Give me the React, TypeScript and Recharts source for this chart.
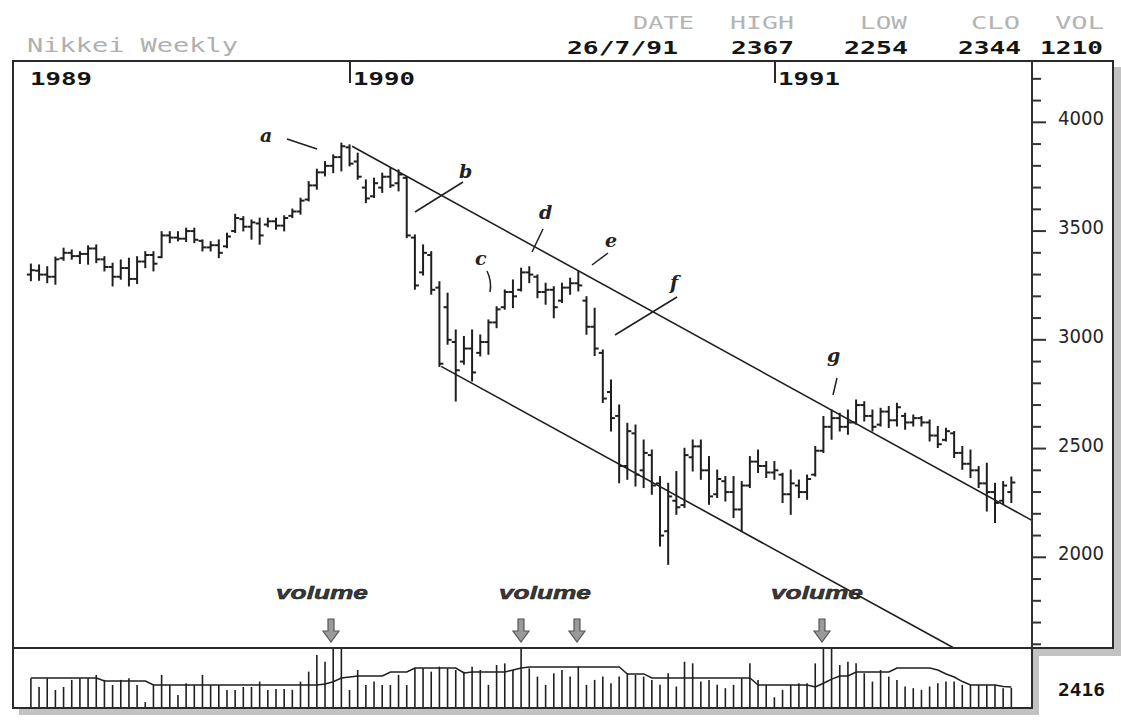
import React from "react"
import { Bar, ComposedChart, Line, ReferenceLine, XAxis, YAxis } from "recharts"

// weekly Nikkei bars, spring 1989 -> 26/7/91
const highs = [
  3346, 3342, 3334, 3378, 3419, 3411, 3403, 3430, 3434, 3380,
  3350, 3365, 3373, 3380, 3403, 3403, 3495, 3495, 3495, 3511,
  3511, 3457, 3449, 3457, 3488, 3575, 3564, 3549, 3557, 3557,
  3557, 3568, 3599, 3649, 3725, 3782, 3817, 3848, 3902, 3894,
  3856, 3733, 3741, 3764, 3787, 3779, 3748, 3480, 3434, 3403,
  3265, 3212, 3043, 3013, 3043, 3020, 3089, 3150, 3227, 3273,
  3327, 3334, 3296, 3258, 3242, 3258, 3281, 3311, 3196, 3143,
  2951, 2813, 2698, 2614, 2606, 2537, 2491, 2369, 2338, 2392,
  2499, 2537, 2537, 2461, 2399, 2369, 2369, 2346, 2461, 2491,
  2438, 2438, 2384, 2399, 2353, 2376, 2507, 2645, 2675, 2660,
  2675, 2721, 2713, 2675, 2683, 2691, 2706, 2660, 2652, 2645,
  2629, 2599, 2591, 2576, 2507, 2491, 2415, 2430, 2338, 2346,
  2367,
]
const lows = [
  3274, 3276, 3265, 3258, 3368, 3373, 3353, 3350, 3357, 3319,
  3250, 3281, 3250, 3261, 3334, 3319, 3380, 3449, 3457, 3454,
  3449, 3411, 3411, 3380, 3426, 3496, 3503, 3465, 3442, 3522,
  3511, 3503, 3564, 3580, 3641, 3695, 3756, 3771, 3779, 3802,
  3741, 3633, 3657, 3680, 3703, 3687, 3472, 3235, 3300, 3212,
  2880, 2982, 2721, 2890, 2813, 2928, 2936, 3058, 3143, 3150,
  3227, 3265, 3196, 3166, 3104, 3174, 3212, 3227, 3028, 2930,
  2714, 2583, 2345, 2361, 2330, 2323, 2292, 2054, 1970, 2200,
  2231, 2399, 2361, 2246, 2277, 2261, 2185, 2123, 2323, 2392,
  2369, 2361, 2254, 2200, 2277, 2269, 2376, 2484, 2545, 2583,
  2568, 2614, 2629, 2583, 2606, 2599, 2606, 2591, 2606, 2606,
  2537, 2507, 2537, 2461, 2407, 2369, 2323, 2215, 2162, 2246,
  2254,
]
const opens = [
  3300, 3318, 3300, 3290, 3375, 3400, 3385, 3395, 3420, 3370,
  3335, 3290, 3330, 3280, 3360, 3390, 3380, 3480, 3470, 3465,
  3500, 3455, 3425, 3435, 3430, 3500, 3555, 3520, 3535, 3530,
  3545, 3525, 3570, 3590, 3645, 3710, 3770, 3800, 3840, 3885,
  3820, 3700, 3660, 3700, 3750, 3720, 3745, 3470, 3310, 3390,
  3240, 3150, 2990, 2900, 2960, 2940, 2990, 3080, 3150, 3220,
  3230, 3310, 3290, 3220, 3230, 3180, 3240, 3260, 3180, 3060,
  2940, 2760, 2650, 2420, 2570, 2400, 2470, 2340, 2120, 2260,
  2240, 2460, 2510, 2400, 2290, 2350, 2300, 2220, 2330, 2440,
  2420, 2390, 2380, 2290, 2330, 2300, 2380, 2490, 2600, 2640,
  2600, 2620, 2700, 2650, 2610, 2670, 2630, 2650, 2620, 2640,
  2620, 2560, 2540, 2570, 2480, 2430, 2400, 2340, 2300, 2260,
  2300,
]
const closes = [
  3320, 3300, 3290, 3370, 3400, 3385, 3395, 3420, 3370, 3335,
  3290, 3330, 3280, 3360, 3390, 3350, 3480, 3470, 3465, 3500,
  3460, 3425, 3435, 3400, 3475, 3560, 3520, 3540, 3480, 3545,
  3525, 3560, 3590, 3640, 3710, 3770, 3800, 3840, 3890, 3810,
  3750, 3650, 3720, 3750, 3710, 3760, 3480, 3250, 3400, 3230,
  2890, 3000, 2860, 2960, 2850, 2990, 3080, 3140, 3220, 3200,
  3310, 3300, 3220, 3230, 3150, 3240, 3260, 3250, 3060, 2960,
  2730, 2640, 2420, 2580, 2380, 2480, 2330, 2100, 2280, 2230,
  2470, 2510, 2400, 2280, 2360, 2300, 2220, 2330, 2440, 2420,
  2390, 2400, 2290, 2340, 2300, 2360, 2490, 2600, 2640, 2600,
  2620, 2700, 2650, 2600, 2670, 2630, 2690, 2620, 2640, 2620,
  2560, 2520, 2580, 2480, 2430, 2400, 2340, 2300, 2250, 2330,
  2344,
]
const volumes = [
  1800, 1270, 1800, 1090, 1270, 1700, 1800, 1800, 2000, 1700,
  1390, 1700, 1800, 1390, 360, 1390, 2000, 1390, 790, 1500,
  1390, 2000, 1390, 1390, 1090, 1090, 1270, 1270, 1600, 1090,
  1150, 1150, 1100, 1600, 2200, 3200, 2800, 3600, 3600, 1090,
  2300, 1390, 1600, 1390, 1390, 2000, 1390, 2400, 2400, 2200,
  2500, 2400, 2300, 2200, 2500, 2300, 1400, 2600, 2700, 2300,
  3600, 2400, 1900, 1400, 2100, 2300, 1900, 2500, 1400, 1700,
  1900, 1500, 1900, 2100, 2000, 1900, 1700, 1400, 2100, 1300,
  2800, 2700, 1600, 1700, 1400, 1200, 1400, 1800, 2700, 1700,
  1400, 650, 1100, 1400, 1500, 1500, 2700, 3600, 3600, 2600,
  2800, 2700, 2100, 1600, 2300, 1900, 1700, 1300, 1200, 1100,
  1300, 1500, 1600, 1600, 1400, 1400, 1400, 1400, 1400, 1200,
  1210,
]
const volumeAvg = [
  1815, 1815, 1815, 1815, 1815, 1815, 1815, 1815, 1815, 1630,
  1630, 1630, 1630, 1630, 1630, 1390, 1390, 1390, 1390, 1390,
  1390, 1390, 1390, 1390, 1390, 1390, 1390, 1390, 1390, 1390,
  1390, 1390, 1390, 1390, 1390, 1390, 1450, 1590, 1815, 1880,
  1940, 1940, 1940, 1940, 2180, 2180, 2180, 2420, 2420, 2420,
  2420, 2420, 2420, 2120, 2180, 2180, 2180, 2180, 2180, 2300,
  2420, 2480, 2480, 2480, 2480, 2480, 2480, 2480, 2480, 2480,
  2480, 2480, 2480, 2060, 2060, 2060, 1815, 1815, 1815, 1815,
  1815, 1815, 1815, 1815, 1815, 1815, 1815, 1815, 1815, 1390,
  1390, 1390, 1390, 1390, 1390, 1390, 1270, 1500, 1750, 1940,
  1940, 2180, 2180, 2180, 2180, 2180, 2420, 2420, 2420, 2420,
  2420, 2300, 2060, 1875, 1600, 1390, 1390, 1390, 1390, 1300,
  1270,
]

const priceTicks = [
  1600, 1700, 1800, 1900, 2000, 2100, 2200, 2300, 2400, 2500, 2600, 2700, 2800,
  2900, 3000, 3100, 3200, 3300, 3400, 3500, 3600, 3700, 3800, 3900, 4000, 4100, 4200,
]
const priceLabels = [2000, 2500, 3000, 3500, 4000]

// trend channel drawn on the chart (week index, price)
const upperTrend = [
  { x: 39.3, y: 3890 },
  { x: 122.5, y: 2170 },
]
const lowerTrend = [
  { x: 50.2, y: 2878 },
  { x: 112.85, y: 1585 },
]

const headerLabels = ["DATE", "HIGH", "LOW", "CLO", "VOL"]
const headerValues = ["26/7/91", "2367", "2254", "2344", "1210"]
const yearLabels = ["1989", "1990", "1991"]
const lastVolumeAvg = "2416"

const weeks = highs.map((high, i) => ({
  i,
  range: [lows[i], high],
  high,
  low: lows[i],
  open: opens[i],
  close: closes[i],
  vol: volumes[i],
  avg: volumeAvg[i],
}))

const X_DOMAIN: [number, number] = [-2.2, 122.52]
const INK = "#1f1f1f"
const MONO = "'DejaVu Sans Mono', 'Liberation Mono', monospace"

function OhlcShape(props: any) {
  const { x, y, width, height, payload } = props
  if (x == null || y == null || !payload) return null
  const top = Math.min(y, y + height)
  const h = Math.abs(height)
  const cx = x + width / 2
  const span = payload.high - payload.low || 1
  const yOpen = top + ((payload.high - payload.open) / span) * h
  const yClose = top + ((payload.high - payload.close) / span) * h
  return (
    <g stroke={INK} strokeWidth={2}>
      <line x1={cx} y1={top - 1} x2={cx} y2={top + h + 1} />
      <line x1={cx - 4} y1={yOpen} x2={cx} y2={yOpen} />
      <line x1={cx} y1={yClose} x2={cx + 4} y2={yClose} />
    </g>
  )
}

function VolumeShape(props: any) {
  const { x, y, width, height } = props
  if (x == null || y == null) return null
  const cx = x + width / 2
  return <line x1={cx} y1={y} x2={cx} y2={y + height} stroke={INK} strokeWidth={1.6} />
}

function PriceTick(props: any) {
  const { x, y, payload } = props
  const major = priceLabels.includes(payload.value)
  return (
    <g>
      <line x1={x} y1={y} x2={x + (major ? 14 : 9)} y2={y} stroke="#333" strokeWidth={2} />
      {major && (
        <text
          x={x + 26}
          y={y + 3}
          fontFamily="'DejaVu Sans', sans-serif"
          fontSize={19}
          fill="#262626"
          textLength={46}
          lengthAdjust="spacingAndGlyphs"
        >
          {payload.value}
        </text>
      )}
    </g>
  )
}

function DownArrow({ cx }: { cx: number }) {
  const t = 619
  return (
    <polygon
      points={`${cx - 3},${t} ${cx + 3},${t} ${cx + 3},${t + 12} ${cx + 8},${t + 12} ${cx},${t + 23} ${cx - 8},${t + 12} ${cx - 3},${t + 12}`}
      fill="#9a9a9a"
      stroke="#555"
      strokeWidth={1.2}
    />
  )
}

function Letter({ x, y, children }: { x: number; y: number; children: string }) {
  return (
    <text x={x} y={y} fontFamily="'DejaVu Serif', serif" fontStyle="italic" fontWeight="bold" fontSize={19} fill="#222">
      {children}
    </text>
  )
}

function VolumeWord({ x }: { x: number }) {
  return (
    <text
      x={x}
      y={599}
      fontFamily="'Liberation Sans', sans-serif"
      fontStyle="italic"
      fontWeight="bold"
      fontSize={19}
      fill="#3a3a3a"
      stroke="#111"
      strokeWidth={0.5}
      textLength={92}
      lengthAdjust="spacingAndGlyphs"
    >
      volume
    </text>
  )
}

export default function App() {
  const layer: React.CSSProperties = { position: "absolute", left: 0, top: 0 }
  const labelRight = [694, 794, 907, 1020, 1104]
  const labelWidth = [61, 64, 47, 49, 49]
  const valueRight = [678, 794, 908, 1021, 1103]
  const valueWidth = [111, 63, 64, 63, 63]
  const yearX = [30, 353, 778]

  return (
    <div style={{ position: "absolute", left: 0, top: 0, width: 1121, height: 723, background: "#fff" }}>
      <svg width={1121} height={723} style={layer}>
        <rect x={1114} y={67} width={7} height={589} fill="#c2c2c2" />
        <rect x={1033} y={649} width={88} height={7} fill="#c2c2c2" />
        <rect x={1033} y={656} width={6} height={59} fill="#c2c2c2" />
        <rect x={19} y={709} width={1020} height={6} fill="#c2c2c2" />
      </svg>

      <div style={layer}>
        <ComposedChart width={1121} height={723} data={weeks} margin={{ top: 61, right: 8, bottom: 75, left: 13 }}>
          <XAxis dataKey="i" type="number" domain={X_DOMAIN} allowDataOverflow hide />
          <YAxis
            orientation="right"
            domain={[1583, 4282]}
            allowDataOverflow
            ticks={priceTicks}
            interval={0}
            tickLine={false}
            tickSize={0}
            tickMargin={0}
            tick={<PriceTick />}
            axisLine={{ stroke: "#333", strokeWidth: 2 }}
            width={81}
          />
          <Bar dataKey="range" barSize={6} shape={<OhlcShape />} isAnimationActive={false} />
          <ReferenceLine segment={upperTrend} stroke={INK} strokeWidth={1.6} ifOverflow="visible" />
          <ReferenceLine segment={lowerTrend} stroke={INK} strokeWidth={1.6} ifOverflow="visible" />
        </ComposedChart>
      </div>

      <div style={{ ...layer, top: 640 }}>
        <ComposedChart width={1121} height={80} data={weeks} margin={{ top: 8, right: 89, bottom: 12, left: 13 }}>
          <XAxis dataKey="i" type="number" domain={X_DOMAIN} allowDataOverflow hide />
          <YAxis domain={[0, 3630]} allowDataOverflow hide />
          <Bar dataKey="vol" barSize={2} shape={<VolumeShape />} isAnimationActive={false} />
          <Line dataKey="avg" type="linear" stroke={INK} strokeWidth={1.5} dot={false} isAnimationActive={false} />
        </ComposedChart>
      </div>

      <svg width={1121} height={723} style={{ ...layer, pointerEvents: "none" }}>
        {/* frames */}
        <rect x={13} y={61} width={1100} height={587} fill="none" stroke="#2a2a2a" strokeWidth={2} />
        <rect x={13} y={648} width={1019} height={60} fill="none" stroke="#2a2a2a" strokeWidth={2} />
        <line x1={350} y1={61} x2={350} y2={83} stroke="#2a2a2a" strokeWidth={2} />
        <line x1={775} y1={61} x2={775} y2={83} stroke="#2a2a2a" strokeWidth={2} />

        {/* header */}
        <text x={27} y={52} fontFamily={MONO} fontSize={20} fill="#b0b0b0" textLength={211} lengthAdjust="spacingAndGlyphs">
          Nikkei Weekly
        </text>
        {headerLabels.map((label, k) => (
          <text
            key={label}
            x={labelRight[k] - labelWidth[k]}
            y={29}
            fontFamily={MONO}
            fontSize={18}
            fill="#b4b4b4"
            textLength={labelWidth[k]}
            lengthAdjust="spacingAndGlyphs"
          >
            {label}
          </text>
        ))}
        {headerValues.map((value, k) => (
          <text
            key={value + k}
            x={valueRight[k] - valueWidth[k]}
            y={54}
            fontFamily={MONO}
            fontWeight="bold"
            fontSize={18}
            fill="#151515"
            textLength={valueWidth[k]}
            lengthAdjust="spacingAndGlyphs"
          >
            {value}
          </text>
        ))}
        {yearLabels.map((year, k) => (
          <text
            key={year}
            x={yearX[k]}
            y={85}
            fontFamily={MONO}
            fontWeight="bold"
            fontSize={17}
            fill="#151515"
            textLength={62}
            lengthAdjust="spacingAndGlyphs"
          >
            {year}
          </text>
        ))}
        <text x={1058} y={696} fontFamily={MONO} fontWeight="bold" fontSize={18} fill="#151515" textLength={47} lengthAdjust="spacingAndGlyphs">
          {lastVolumeAvg}
        </text>

        {/* annotations */}
        <g stroke={INK} strokeWidth={1.5} fill="none">
          <line x1={287} y1={139} x2={317} y2={149} />
          <line x1={415} y1={212} x2={463} y2={182} />
          <path d="M487 271 Q492 281 490 292" />
          <line x1={543} y1={229} x2={532} y2={252} />
          <line x1={608} y1={253} x2={592} y2={265} />
          <line x1={615} y1={335} x2={677} y2={297} />
          <line x1={837} y1={378} x2={833} y2={395} />
        </g>
        <Letter x={260} y={142}>a</Letter>
        <Letter x={459} y={178}>b</Letter>
        <Letter x={475} y={265}>c</Letter>
        <Letter x={539} y={219}>d</Letter>
        <Letter x={605} y={247}>e</Letter>
        <Letter x={670} y={289}>f</Letter>
        <Letter x={827} y={362}>g</Letter>

        <VolumeWord x={276} />
        <VolumeWord x={499} />
        <VolumeWord x={771} />
        <DownArrow cx={331} />
        <DownArrow cx={521} />
        <DownArrow cx={577} />
        <DownArrow cx={822} />
      </svg>
    </div>
  )
}
